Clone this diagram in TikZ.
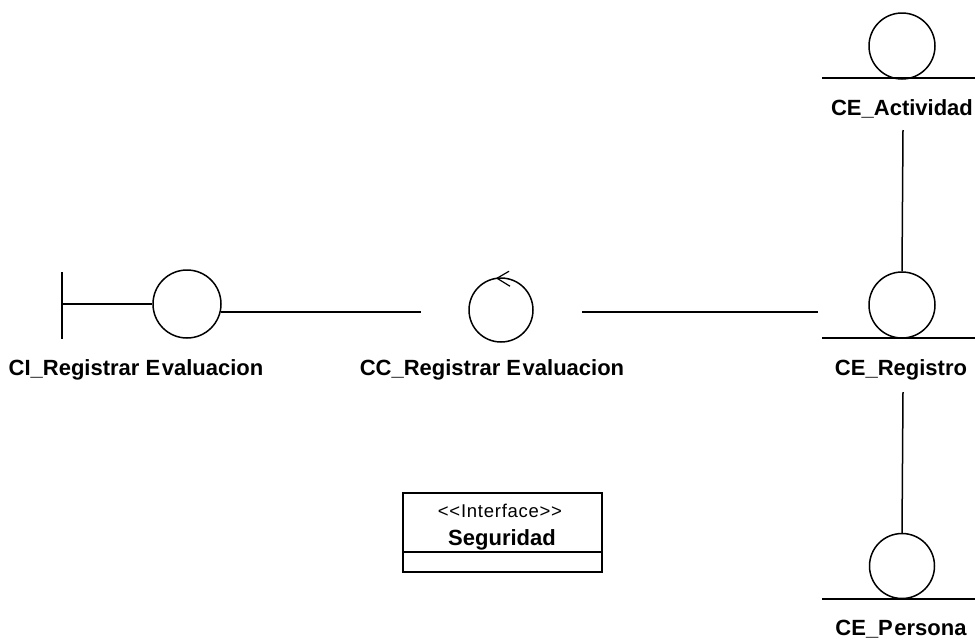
\documentclass[tikz,border=0pt]{standalone}
\usepackage{fontspec}
\setmainfont{Liberation Sans}
\newfontfamily\stereofont[LetterSpace=4]{Liberation Sans}
\usetikzlibrary{calc}
\tikzset{
  icon/.style={draw, circle, line width=1.5pt, inner sep=0pt},
  lbl/.style={anchor=base, inner sep=0pt, font=\fontsize{22}{24}\selectfont\bfseries},
  conn/.style={line width=1.5pt},
}
\begin{document}
\begin{tikzpicture}[x=1pt, y=-1pt]
\useasboundingbox (0,0) rectangle (975,643);

% boundary object
\node[icon, minimum size=68pt] (ci) at (187,304) {};
\coordinate (cibar) at (62,304);
\draw[conn] ($(cibar)+(0,-32)$) -- ($(cibar)+(0,35)$);
\draw[conn] (cibar) -- (ci.west);
\node[lbl] (cilbl) at (136,375) {CI\_Registrar E\kern1.5pt valuacion};

% control object
\node[icon, minimum size=64pt] (cc) at (501,310) {};
\draw[conn, line width=1.2pt] ($(cc.north)+(8,-6)$) -- ($(cc.north)+(-4,1)$) -- ($(cc.north)+(9,9)$);
\node[lbl] (cclbl) at (492,375) {CC\_Registrar E\kern1.5pt valuacion};

% entity objects
\node[icon, minimum size=66pt] (act) at (902,46) {};
\draw[conn] (822,78) -- (975,78);
\node[lbl] (actlbl) at (902,115) {CE\_Actividad};

\node[icon, minimum size=66pt] (reg) at (902,305) {};
\draw[conn] (822,338) -- (975,338);
\node[lbl] (reglbl) at (901,375) {CE\_Registro};

\node[icon, minimum size=65pt] (per) at (902,566) {};
\draw[conn] (822,599) -- (975,599);
\node[lbl] (perlbl) at (901,635) {CE\_P\kern1.5pt ersona};

% links
\coordinate (ccin) at (421,312);
\coordinate (ccout) at (582,312);
\coordinate (regin) at (818,312);
\draw[conn] (ci.-14 |- ccin) -- (ccin);
\draw[conn] (ccout) -- (regin);
\draw[conn] ($(actlbl.base)+(1,15)$) -- (reg.north);
\draw[conn] ($(reglbl.base)+(2,17)$) -- (per.north);

% interface class
\node[draw, line width=1.5pt, minimum width=199pt, minimum height=79pt, inner sep=0pt] (seg) at (502.5,532.5) {};
\draw[line width=1.3pt] (seg.west |- 0,552) -- (seg.east |- 0,552);
\node[anchor=base, inner sep=0pt, font=\fontsize{18.5}{20}\stereofont] (segst) at (500,517) {<<Interface>>};
\node[lbl] (segname) at (502,545) {Seguridad};
\end{tikzpicture}
\end{document}
